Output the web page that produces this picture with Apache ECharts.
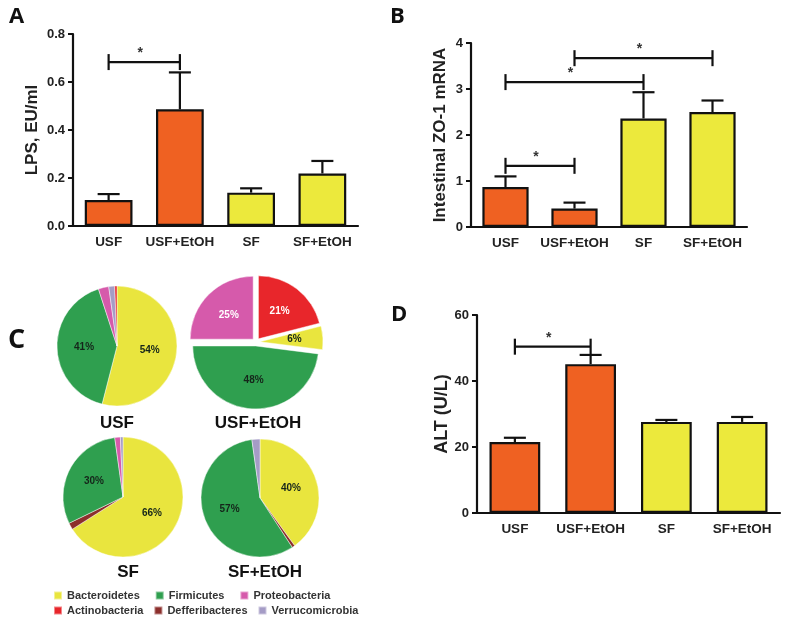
<!DOCTYPE html>
<html>
<head>
<meta charset="utf-8">
<script src="https://cdn.jsdelivr.net/npm/echarts@6/dist/echarts.min.js"></script>
<style>
  html, body {margin: 0; padding: 0; background: #fff;}
  #chart {width: 794px; height: 628px;}
</style>
</head>
<body>
<div id="chart"></div>
<script>
// groups shared by the three bar panels
var groups = ['USF', 'USF+EtOH', 'SF', 'SF+EtOH'];
var groupColors = ['#ef6122', '#ef6122', '#ece93c', '#ece93c'];

// panel A, LPS EU/ml (mean, sem)
var lpsMean = [0.108, 0.486, 0.139, 0.219];
var lpsSem = [0.025, 0.154, 0.018, 0.052];
var lpsSig = [[0, 1, 0.683]];

// panel B, intestinal ZO-1 mRNA
var zoMean = [0.87, 0.40, 2.36, 2.50];
var zoSem = [0.23, 0.13, 0.57, 0.25];
var zoSig = [[0, 1, 1.33], [0, 2, 3.15], [1, 3, 3.67]];

// panel D, ALT U/L
var altMean = [21.5, 45.1, 27.6, 27.6];
var altSem = [1.3, 2.8, 0.6, 1.5];
var altSig = [[0, 1, 50.4]];

// panel C, phyla share (%)
var phylaColors = {
    Bacteroidetes: '#e9e53e', Firmicutes: '#2f9f4f', Proteobacteria: '#d65aab',
    Actinobacteria: '#e8262b', Defferibacteres: '#8c2f2c', Verrucomicrobia: '#a59cc6'
};
var legendRow1 = ['Bacteroidetes', 'Firmicutes', 'Proteobacteria'];
var legendRow2 = ['Actinobacteria', 'Defferibacteres', 'Verrucomicrobia'];
var usfPhyla = ['Bacteroidetes', 'Firmicutes', 'Proteobacteria', 'Verrucomicrobia', 'Actinobacteria'];
var usfPct = [54, 41, 2.8, 1.6, 0.6];
var usfEtohPhyla = ['Actinobacteria', 'Bacteroidetes', 'Firmicutes', 'Proteobacteria'];
var usfEtohPct = [21, 6, 48, 25];
var sfPhyla = ['Bacteroidetes', 'Defferibacteres', 'Firmicutes', 'Proteobacteria', 'Verrucomicrobia'];
var sfPct = [66, 1.8, 30, 1.5, 0.7];
var sfEtohPhyla = ['Bacteroidetes', 'Defferibacteres', 'Firmicutes', 'Verrucomicrobia'];
var sfEtohPct = [40, 0.8, 57, 2.2];

var FONT = 'Liberation Sans, Arial, sans-serif';
var INK = '#111';

function err_render(params, api) {
    var x = api.value(0), m = api.value(1), e = api.value(2);
    var p0 = api.coord([x, m]);
    var p1 = api.coord([x, m + e]);
    var st = {stroke: INK, lineWidth: 2.2};
    return {type: 'group', children: [
        {type: 'line', shape: {x1: p0[0], y1: p0[1], x2: p1[0], y2: p1[1]}, style: st},
        {type: 'line', shape: {x1: p1[0] - 11, y1: p1[1], x2: p1[0] + 11, y2: p1[1]}, style: st}
    ]};
}

function sig_render(params, api) {
    var a = api.coord([api.value(0), api.value(2)]);
    var b = api.coord([api.value(1), api.value(2)]);
    var st = {stroke: INK, lineWidth: 2.2};
    return {type: 'group', children: [
        {type: 'line', shape: {x1: a[0], y1: a[1], x2: b[0], y2: b[1]}, style: st},
        {type: 'line', shape: {x1: a[0], y1: a[1] - 8, x2: a[0], y2: a[1] + 8}, style: st},
        {type: 'line', shape: {x1: b[0], y1: b[1] - 8, x2: b[0], y2: b[1] + 8}, style: st},
        {type: 'text', style: {text: '*', x: (a[0] + b[0]) / 2 - 4, y: a[1] - 2, font: 'bold 14px ' + FONT,
            fill: '#333', align: 'center', verticalAlign: 'bottom'}}
    ]};
}

function make_bars(idx, mean, sem, sig) {
    return [
        {type: 'custom', xAxisIndex: idx, yAxisIndex: idx, z: 1, renderItem: err_render,
         data: mean.map(function (m, i) {return [i, m, sem[i]];})},
        {type: 'bar', xAxisIndex: idx, yAxisIndex: idx, z: 2, barWidth: '67%',
         data: mean.map(function (m, i) {
             return {value: m, itemStyle: {color: groupColors[i], borderColor: INK, borderWidth: 2.2}};
         })},
        {type: 'custom', xAxisIndex: idx, yAxisIndex: idx, z: 3, renderItem: sig_render, data: sig}
    ];
}

function x_axis(idx) {
    return {type: 'category', gridIndex: idx, data: groups,
        axisLine: {lineStyle: {color: INK, width: 2.2}},
        axisTick: {show: false},
        axisLabel: {interval: 0, color: '#222', fontFamily: FONT, fontWeight: 'bold', fontSize: 13.5, margin: 9}};
}

function y_axis(idx, name, max, interval, gap, nameSize, digits) {
    return {type: 'value', gridIndex: idx, min: 0, max: max, interval: interval,
        name: name, nameLocation: 'middle', nameGap: gap,
        nameTextStyle: {color: '#222', fontFamily: FONT, fontWeight: 'bold', fontSize: nameSize},
        axisLine: {show: true, lineStyle: {color: INK, width: 2.2}},
        axisTick: {show: true, length: 5, lineStyle: {color: INK, width: 2}},
        splitLine: {show: false},
        axisLabel: {color: '#222', fontFamily: FONT, fontWeight: 'bold', fontSize: 13, margin: 8,
            formatter: function (v) {return v.toFixed(digits);}}};
}

function make_pie(names, values, center, radius, exploded) {
    return {
        type: 'pie', center: center, radius: radius, startAngle: 90, clockwise: true,
        avoidLabelOverlap: false, selectedMode: exploded ? 'multiple' : false, selectedOffset: 4,
        emphasis: {disabled: true},
        itemStyle: {borderColor: 'rgba(255,255,255,0.45)', borderWidth: 1},
        label: {position: 'inside', fontFamily: FONT, fontWeight: 'bold', fontSize: 10, color: '#15251a',
            formatter: function (p) {return p.value >= 5 ? p.value + '%' : '';}},
        labelLine: {show: false},
        data: names.map(function (n, i) {
            var item = {name: n, value: values[i], selected: !!exploded, itemStyle: {color: phylaColors[n]}};
            if (n === 'Proteobacteria' || n === 'Actinobacteria') item.label = {color: '#fff'};
            return item;
        })
    };
}

function letter(t, x, y, size) {
    return {type: 'text', x: x, y: y, style: {text: t, font: 'bold ' + size + 'px Open Sans, sans-serif', fill: '#111'}};
}

function pie_name(t, x, y) {
    return {type: 'text', x: x, y: y, style: {text: t, font: 'bold 17px ' + FONT, fill: '#111',
        align: 'center', verticalAlign: 'middle'}};
}

var legendText = {fontFamily: FONT, fontWeight: 'bold', fontSize: 11, color: '#333'};

var chart = echarts.init(document.getElementById('chart'));
chart.setOption({
    animation: false,
    grid: [
        {left: 73, top: 34, width: 285, height: 192},
        {left: 471, top: 43, width: 276, height: 184},
        {left: 477, top: 315, width: 303, height: 198}
    ],
    xAxis: [x_axis(0), x_axis(1), x_axis(2)],
    yAxis: [
        y_axis(0, 'LPS, EU/ml', 0.8, 0.2, 32, 17, 1),
        y_axis(1, 'Intestinal ZO-1 mRNA', 4, 1, 22, 17, 0),
        y_axis(2, 'ALT (U/L)', 60, 20, 26, 18, 0)
    ],
    legend: [
        {left: 48, top: 585, icon: 'rect', itemWidth: 8, itemHeight: 8, itemGap: 15, selectedMode: false,
         data: legendRow1, textStyle: legendText},
        {left: 48, top: 600, icon: 'rect', itemWidth: 8, itemHeight: 8, itemGap: 10, selectedMode: false,
         data: legendRow2, textStyle: legendText}
    ],
    series: [].concat(
        make_bars(0, lpsMean, lpsSem, lpsSig),
        make_bars(1, zoMean, zoSem, zoSig),
        make_bars(2, altMean, altSem, altSig),
        [
            make_pie(usfPhyla, usfPct, [117, 346], 60, false),
            make_pie(usfEtohPhyla, usfEtohPct, [256, 342], 63, true),
            make_pie(sfPhyla, sfPct, [123, 497], 60, false),
            make_pie(sfEtohPhyla, sfEtohPct, [260, 498], 59, false)
        ]
    ),
    graphic: [
        letter('A', 9, 6, 22),
        letter('B', 390, 6, 22),
        letter('C', 8, 327, 27),
        letter('D', 391, 304, 22),
        pie_name('USF', 117, 423),
        pie_name('USF+EtOH', 258, 423),
        pie_name('SF', 128, 572),
        pie_name('SF+EtOH', 265, 572)
    ]
});
</script>
</body>
</html>
